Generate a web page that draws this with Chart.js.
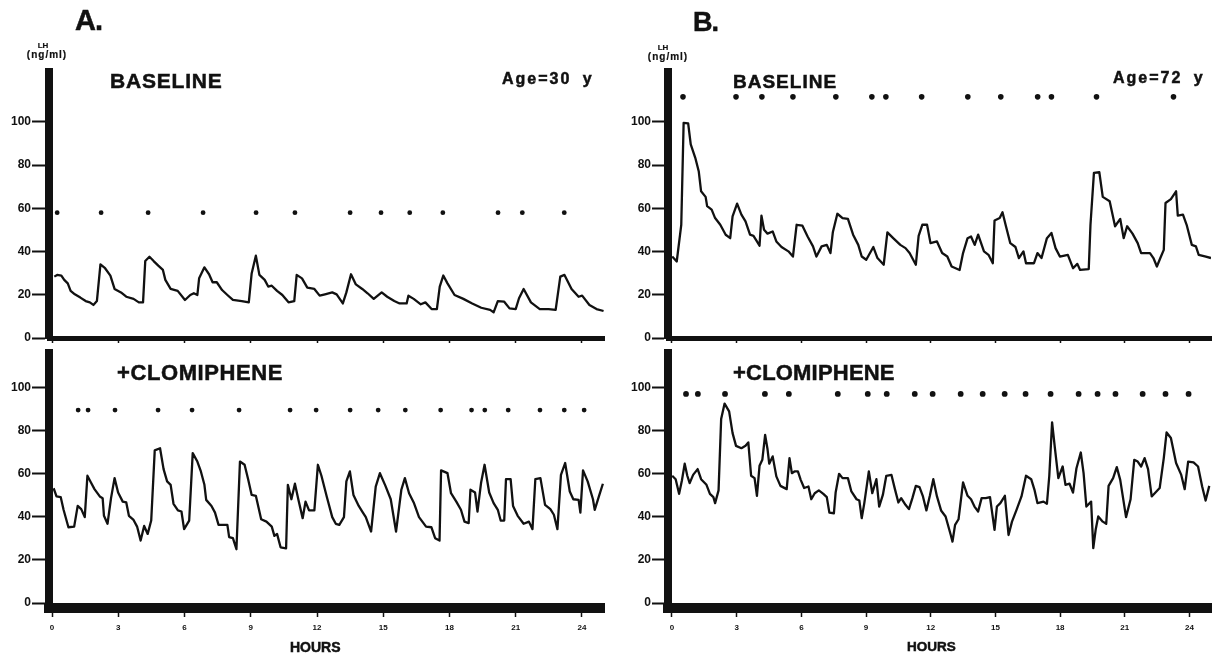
<!DOCTYPE html>
<html>
<head>
<meta charset="utf-8">
<script src="https://cdn.jsdelivr.net/npm/chart.js@4/dist/chart.umd.min.js"></script>
<style>
  body { margin: 0; background: #fff; }
  #wrap { position: relative; width: 1219px; height: 653px; overflow: hidden; background: #fff; }
  canvas { position: absolute; left: 0; top: 0; }
  .lbl { position: absolute; font-family: 'Liberation Sans', Arial, sans-serif; font-weight: bold; color: #111; line-height: 1; white-space: nowrap; -webkit-text-stroke: 0.5px #111; }
</style>
</head>
<body>
<div id="wrap">
  <canvas id="aBase" width="1219" height="653"></canvas>
  <canvas id="aClom" width="1219" height="653"></canvas>
  <canvas id="bBase" width="1219" height="653"></canvas>
  <canvas id="bClom" width="1219" height="653"></canvas>

  <div class="lbl" style="left:75px;top:6px;font-size:29px;letter-spacing:-1px">A.</div>
  <div class="lbl" style="left:693px;top:9px;font-size:27px;letter-spacing:-1px">B.</div>

  <div class="lbl" style="left:28px;top:42px;width:30px;text-align:center;font-size:8px;-webkit-text-stroke:0.2px #111">LH</div>
  <div class="lbl" style="left:17px;top:50px;width:60px;text-align:center;font-size:10px;letter-spacing:1px;-webkit-text-stroke:0.2px #111">(ng/ml)</div>
  <div class="lbl" style="left:648px;top:44px;width:30px;text-align:center;font-size:8px;-webkit-text-stroke:0.2px #111">LH</div>
  <div class="lbl" style="left:638px;top:52px;width:60px;text-align:center;font-size:10px;letter-spacing:1px;-webkit-text-stroke:0.2px #111">(ng/ml)</div>

  <div class="lbl" style="left:110px;top:70px;font-size:21px;letter-spacing:0.8px">BASELINE</div>
  <div class="lbl" style="left:733px;top:72px;font-size:19px;letter-spacing:1px">BASELINE</div>
  <div class="lbl" style="left:502px;top:71px;font-size:16px;letter-spacing:2px;word-spacing:5px">Age=30 y</div>
  <div class="lbl" style="left:1113px;top:70px;font-size:16px;letter-spacing:2px;word-spacing:5px">Age=72 y</div>

  <div class="lbl" style="left:117px;top:362px;font-size:22px;letter-spacing:0.6px">+CLOMIPHENE</div>
  <div class="lbl" style="left:733px;top:362px;font-size:22px;letter-spacing:0.2px">+CLOMIPHENE</div>

  <div class="lbl" style="left:290px;top:640px;font-size:14px">HOURS</div>
  <div class="lbl" style="left:907px;top:640px;font-size:13.5px">HOURS</div>
</div>
<script>
// tick labels
const hourTicks = [0, 3, 6, 9, 12, 15, 18, 21, 24];
const lhTicks = [0, 20, 40, 60, 80, 100];

// A. age 30, baseline
const aBaseHours = [
  0.10, 0.23, 0.42, 0.55, 0.71, 0.84, 1.03, 1.28, 1.52, 1.71,
  1.87, 2.03, 2.19, 2.40, 2.64, 2.83, 3.12, 3.36, 3.69, 3.93,
  4.12, 4.22, 4.41, 4.60, 4.81, 5.02, 5.13, 5.37, 5.69, 6.02,
  6.26, 6.42, 6.58, 6.66, 6.90, 7.11, 7.27, 7.46, 7.70, 7.94,
  8.19, 8.59, 8.91, 9.04, 9.23, 9.39, 9.63, 9.79, 9.95, 10.19,
  10.43, 10.71, 10.97, 11.08, 11.32, 11.56, 11.88, 12.12, 12.36, 12.69,
  12.89, 13.17, 13.33, 13.54, 13.76, 14.05, 14.29, 14.57, 14.93, 15.18,
  15.50, 15.74, 16.06, 16.14, 16.38, 16.70, 16.91, 17.19, 17.43, 17.56,
  17.72, 17.91, 18.23, 18.63, 19.03, 19.44, 19.84, 20.00, 20.19, 20.48,
  20.72, 21.00, 21.15, 21.36, 21.69, 22.09, 22.49, 22.81, 23.02, 23.21,
  23.53, 23.85, 24.01, 24.34, 24.66, 24.98
];
const aBaseLH = [
  28.4, 29.2, 28.9, 26.9, 25.3, 21.8, 20.2, 18.7, 17.1, 16.5,
  15.3, 17.1, 34.1, 32.3, 28.9, 22.7, 21.1, 19.1, 18.1, 16.5,
  16.5, 35.6, 37.6, 35.6, 33.5, 31.5, 26.9, 22.7, 21.8, 17.6,
  19.9, 20.7, 19.9, 27.6, 32.7, 29.5, 25.8, 25.8, 22.2, 19.9,
  17.6, 17.1, 16.5, 29.9, 38.1, 29.2, 26.9, 23.8, 24.2, 21.8,
  19.9, 16.5, 17.1, 29.2, 27.6, 23.3, 22.7, 19.6, 20.2, 21.1,
  20.2, 16.0, 21.1, 29.5, 24.8, 22.7, 20.7, 18.1, 21.1, 19.1,
  17.1, 16.0, 16.0, 19.6, 18.1, 15.6, 16.5, 13.4, 13.4, 23.8,
  28.9, 25.3, 19.9, 18.1, 16.0, 14.0, 13.0, 11.9, 17.1, 16.8,
  13.7, 13.4, 18.4, 22.7, 16.5, 13.4, 13.4, 13.0, 28.4, 29.2,
  22.7, 19.1, 19.6, 15.3, 13.4, 12.5
];
const aBasePulses = [0.23, 2.22, 4.35, 6.84, 9.24, 11.0, 13.5, 14.9, 16.2, 17.7, 20.2, 21.3, 23.2];

// A. age 30, + clomiphene
const aClomHours = [
  0.07, 0.20, 0.39, 0.52, 0.74, 1.00, 1.16, 1.32, 1.48, 1.60,
  1.76, 1.92, 2.16, 2.29, 2.35, 2.51, 2.67, 2.83, 2.99, 3.20,
  3.36, 3.48, 3.69, 3.85, 4.01, 4.17, 4.33, 4.49, 4.65, 4.89,
  5.05, 5.21, 5.37, 5.50, 5.70, 5.86, 5.98, 6.21, 6.37, 6.58,
  6.74, 6.90, 6.98, 7.22, 7.38, 7.54, 7.78, 7.94, 8.02, 8.19,
  8.35, 8.51, 8.72, 8.88, 9.04, 9.23, 9.47, 9.71, 9.95, 10.07,
  10.19, 10.35, 10.60, 10.68, 10.84, 11.00, 11.16, 11.35, 11.48, 11.64,
  11.88, 12.04, 12.20, 12.44, 12.69, 12.85, 13.01, 13.22, 13.33, 13.49,
  13.65, 13.89, 14.05, 14.21, 14.45, 14.66, 14.85, 15.10, 15.34, 15.58,
  15.82, 15.98, 16.17, 16.38, 16.62, 16.94, 17.18, 17.35, 17.55, 17.62,
  17.91, 18.07, 18.31, 18.52, 18.68, 18.87, 18.95, 19.16, 19.27, 19.43,
  19.59, 19.80, 20.00, 20.19, 20.32, 20.48, 20.56, 20.77, 20.88, 21.09,
  21.36, 21.60, 21.76, 21.89, 22.12, 22.33, 22.57, 22.73, 22.89, 23.05,
  23.24, 23.45, 23.61, 23.85, 23.93, 24.05, 24.26, 24.50, 24.58, 24.79,
  24.95
];
const aClomLH = [
  53.3, 49.5, 49.2, 43.3, 35.2, 35.5, 45.1, 43.6, 39.9, 59.1,
  56.0, 52.9, 49.5, 48.7, 40.5, 36.8, 48.7, 58.0, 51.3, 47.1,
  46.7, 40.5, 38.6, 35.5, 29.0, 35.8, 32.1, 38.3, 70.9, 71.9,
  62.2, 56.5, 54.9, 46.1, 43.0, 42.5, 34.3, 38.3, 69.6, 65.7,
  61.1, 54.9, 47.9, 45.1, 42.0, 36.3, 36.3, 36.3, 30.6, 30.1,
  25.0, 65.7, 64.2, 57.5, 50.2, 49.8, 38.9, 37.8, 35.5, 31.2,
  32.1, 25.9, 25.4, 54.9, 48.2, 55.4, 47.9, 39.4, 47.1, 43.0,
  43.0, 64.2, 59.1, 49.5, 39.9, 36.8, 36.3, 39.9, 56.5, 61.1,
  50.2, 45.1, 42.5, 39.9, 33.2, 54.1, 60.3, 54.4, 48.2, 33.2,
  52.6, 58.0, 51.0, 46.7, 39.9, 35.5, 35.2, 30.1, 29.0, 61.6,
  60.3, 51.0, 47.1, 43.3, 37.8, 37.1, 52.6, 51.3, 42.5, 55.7,
  64.2, 51.3, 46.4, 43.3, 38.3, 38.3, 57.5, 57.5, 45.1, 40.5,
  36.8, 37.8, 34.3, 57.5, 58.0, 45.6, 43.6, 41.0, 34.3, 59.5,
  65.0, 51.8, 48.2, 47.9, 42.0, 61.6, 56.5, 48.2, 43.3, 50.2,
  55.4
];
const aClomPulses = [1.18, 1.63, 2.85, 4.8, 6.34, 8.47, 10.78, 11.96, 13.5, 14.77, 16.0, 17.6, 19.0, 19.6, 20.66, 22.1, 23.2, 24.1];

// B. age 72, baseline
const bBaseHours = [
  0.01, 0.22, 0.43, 0.54, 0.75, 0.87, 1.08, 1.24, 1.35, 1.56,
  1.63, 1.84, 2.00, 2.24, 2.49, 2.70, 2.81, 3.02, 3.22, 3.41,
  3.62, 3.78, 3.94, 4.06, 4.15, 4.27, 4.43, 4.67, 4.84, 5.08,
  5.40, 5.61, 5.78, 6.05, 6.29, 6.54, 6.70, 6.94, 7.18, 7.35,
  7.46, 7.67, 7.91, 8.16, 8.40, 8.64, 8.80, 9.01, 9.34, 9.53,
  9.82, 9.99, 10.26, 10.59, 10.83, 11.02, 11.31, 11.44, 11.61, 11.83,
  11.99, 12.29, 12.53, 12.77, 12.97, 13.34, 13.50, 13.71, 13.87, 14.04,
  14.20, 14.47, 14.68, 14.88, 14.96, 15.20, 15.33, 15.49, 15.69, 15.93,
  16.09, 16.30, 16.42, 16.79, 16.95, 17.14, 17.39, 17.60, 17.79, 17.99,
  18.36, 18.60, 18.80, 18.93, 19.33, 19.41, 19.57, 19.82, 19.98, 20.30,
  20.55, 20.79, 20.95, 21.11, 21.36, 21.60, 21.76, 22.17, 22.33, 22.49,
  22.65, 22.81, 22.89, 23.14, 23.38, 23.46, 23.70, 23.87, 24.11, 24.30,
  24.43, 24.76, 25.00
];
const bBaseLH = [
  37.7, 35.4, 52.4, 99.6, 99.3, 89.6, 83.4, 77.2, 67.9, 65.3,
  61.0, 59.4, 55.5, 52.4, 47.8, 46.2, 56.3, 62.2, 57.1, 54.0,
  47.8, 47.3, 44.7, 42.7, 56.6, 50.1, 48.3, 49.3, 44.7, 42.1,
  40.1, 37.7, 52.4, 52.0, 47.0, 42.4, 37.7, 42.4, 43.1, 39.3,
  48.9, 57.5, 55.5, 55.1, 47.8, 43.1, 37.7, 36.2, 42.1, 37.0,
  33.9, 48.9, 46.2, 43.1, 41.6, 39.3, 33.9, 47.3, 52.4, 52.4,
  43.9, 44.7, 39.3, 37.7, 33.1, 31.5, 39.3, 46.2, 47.0, 43.1,
  47.8, 40.1, 38.5, 34.6, 54.4, 55.5, 58.2, 51.7, 43.9, 42.1,
  37.0, 40.1, 34.6, 34.6, 39.3, 37.0, 46.2, 48.6, 41.6, 37.7,
  38.5, 32.3, 34.3, 31.5, 31.9, 52.4, 76.4, 76.7, 65.3, 63.3,
  51.7, 55.1, 46.2, 51.7, 48.3, 43.9, 39.3, 39.3, 37.0, 33.1,
  37.0, 40.8, 62.5, 64.3, 67.9, 56.6, 57.1, 52.4, 43.1, 42.4,
  38.5, 37.7, 37.0
];
const bBasePulses = [0.51, 2.97, 4.17, 5.61, 7.6, 9.27, 9.92, 11.58, 13.72, 15.25, 16.96, 17.6, 19.69, 23.26];

// B. age 72, + clomiphene
const bClomHours = [
  0.01, 0.17, 0.33, 0.46, 0.59, 0.71, 0.82, 0.98, 1.19, 1.35,
  1.60, 1.76, 1.92, 2.00, 2.16, 2.28, 2.44, 2.65, 2.81, 2.97,
  3.22, 3.41, 3.54, 3.67, 3.83, 3.94, 4.06, 4.19, 4.32, 4.43,
  4.51, 4.67, 4.84, 5.03, 5.32, 5.45, 5.56, 5.68, 5.84, 5.97,
  6.13, 6.33, 6.46, 6.62, 6.81, 7.02, 7.18, 7.30, 7.51, 7.59,
  7.75, 7.91, 8.16, 8.32, 8.56, 8.69, 8.80, 8.92, 9.13, 9.29,
  9.48, 9.61, 9.78, 9.94, 10.18, 10.34, 10.50, 10.63, 10.83, 10.99,
  11.15, 11.31, 11.48, 11.64, 11.80, 11.96, 12.12, 12.29, 12.48, 12.69,
  12.93, 13.01, 13.13, 13.29, 13.50, 13.71, 13.87, 14.03, 14.20, 14.36,
  14.55, 14.75, 14.96, 15.07, 15.23, 15.44, 15.61, 15.77, 15.98, 16.21,
  16.42, 16.66, 16.82, 16.95, 17.23, 17.39, 17.50, 17.63, 17.76, 17.92,
  18.12, 18.25, 18.44, 18.60, 18.76, 18.96, 19.09, 19.22, 19.44, 19.54,
  19.65, 19.77, 19.98, 20.14, 20.25, 20.46, 20.63, 20.79, 21.06, 21.27,
  21.44, 21.60, 21.76, 21.92, 22.08, 22.25, 22.62, 22.81, 22.94, 23.14,
  23.38, 23.62, 23.78, 23.94, 24.19, 24.40, 24.59, 24.75, 24.92
];
const bClomLH = [
  59.1, 57.5, 50.7, 56.9, 64.7, 59.1, 55.7, 59.5, 62.2, 57.5,
  54.9, 50.7, 49.2, 46.4, 52.3, 85.4, 92.6, 89.0, 78.9, 73.0,
  71.9, 73.0, 74.6, 59.1, 58.0, 49.8, 63.7, 66.5, 78.1, 71.5,
  64.7, 68.1, 58.8, 54.4, 52.9, 67.3, 60.3, 61.1, 61.1, 57.2,
  53.4, 54.1, 48.2, 51.0, 52.3, 50.7, 49.2, 42.0, 41.7, 51.3,
  60.0, 58.0, 58.0, 51.8, 48.2, 47.6, 39.4, 46.4, 61.1, 51.0,
  57.5, 44.8, 50.2, 59.1, 59.5, 52.9, 46.7, 48.7, 45.6, 43.6,
  48.7, 54.4, 53.8, 49.5, 43.0, 49.8, 57.5, 49.5, 43.0, 40.2,
  31.6, 28.5, 36.3, 38.9, 56.0, 49.8, 48.2, 44.8, 42.5, 48.7,
  48.7, 49.2, 34.0, 44.8, 46.4, 49.8, 31.6, 37.8, 43.3, 49.5,
  59.1, 57.5, 52.3, 46.4, 47.1, 46.1, 59.1, 83.9, 71.9, 58.0,
  63.4, 54.9, 55.4, 51.3, 62.6, 69.9, 60.3, 44.8, 47.1, 25.5,
  34.0, 40.2, 37.8, 36.8, 54.4, 58.0, 63.1, 57.2, 39.9, 48.2,
  66.5, 65.7, 63.4, 67.3, 62.2, 49.5, 53.4, 67.3, 79.2, 76.6,
  65.0, 59.5, 52.9, 65.7, 65.3, 63.4, 54.1, 47.6, 54.4
];
const bClomPulses = [0.65, 1.2, 2.46, 4.31, 5.42, 7.69, 9.08, 9.96, 11.26, 12.09, 13.39, 14.41, 15.43, 16.4, 17.56, 18.86, 19.74, 20.57, 21.83, 22.89, 23.96];

const INK = '#111';
const FONT = "'Liberation Sans', Arial, sans-serif";
const Y_W = 45;

// plot boxes in page pixels, matched to the scanned figure
const panels = [
  { id: 'aBase', hours: aBaseHours, lh: aBaseLH, pulses: aBasePulses, pulseLevel: 58, dot: 2.4,
    left: 49, right: 604, top: 72, bottom: 338, xMin: -0.14, yMin: 0, yMax: 123.1,
    xBorder: 5, xH: 10, xTick: 5, showHours: false, yTick: 17 },
  { id: 'aClom', hours: aClomHours, lh: aClomLH, pulses: aClomPulses, pulseLevel: 89.6, dot: 2.4,
    left: 49, right: 604, top: 353, bottom: 608, xMin: -0.14, yMin: -2.3, yMax: 116.1,
    xBorder: 10, xH: 40, xTick: 9, showHours: true, yTick: 17 },
  { id: 'bBase', hours: bBaseHours, lh: bBaseLH, pulses: bBasePulses, pulseLevel: 111.6, dot: 2.8,
    left: 668, right: 1211, top: 72, bottom: 338, xMin: -0.185, yMin: 0, yMax: 123.1,
    xBorder: 5, xH: 10, xTick: 5, showHours: false, yTick: 16 },
  { id: 'bClom', hours: bClomHours, lh: bClomLH, pulses: bClomPulses, pulseLevel: 97.1, dot: 2.9,
    left: 668, right: 1211, top: 353, bottom: 608, xMin: -0.185, yMin: -2.3, yMax: 116.1,
    xBorder: 10, xH: 40, xTick: 9, showHours: true, yTick: 16 }
];

panels.forEach(p => {
  const series = p.hours.map((h, i) => ({ x: h, y: p.lh[i] }));
  const dots = p.pulses.map(h => ({ x: h, y: p.pulseLevel }));

  new Chart(document.getElementById(p.id), {
    type: 'scatter',
    data: {
      datasets: [
        { data: series, showLine: true, borderColor: INK, borderWidth: 2.3, pointRadius: 0, tension: 0,
          borderJoinStyle: 'round' },
        { data: dots, pointRadius: p.dot, backgroundColor: INK, borderWidth: 0 }
      ]
    },
    options: {
      responsive: false,
      animation: false,
      events: [],
      layout: {
        padding: { left: p.left - Y_W, right: 1219 - p.right, top: p.top, bottom: 653 - p.bottom - p.xH }
      },
      plugins: { legend: { display: false }, tooltip: { enabled: false } },
      scales: {
        x: {
          type: 'linear',
          min: p.xMin,
          max: 25,
          afterBuildTicks: s => { s.ticks = hourTicks.map(v => ({ value: v })); },
          afterFit: s => { s.height = p.xH; },
          grid: { drawOnChartArea: false, tickLength: p.xTick, tickWidth: 1.5, tickColor: INK },
          border: { color: INK, width: p.xBorder },
          ticks: { display: p.showHours, color: INK, padding: 6, maxRotation: 0, autoSkip: false,
                   font: { family: FONT, size: 8, weight: 'bold' } }
        },
        y: {
          min: p.yMin,
          max: p.yMax,
          afterBuildTicks: s => { s.ticks = lhTicks.map(v => ({ value: v })); },
          afterFit: s => { s.width = Y_W; },
          grid: { drawOnChartArea: false, tickLength: p.yTick, tickWidth: 2, tickColor: INK },
          border: { color: INK, width: 8 },
          ticks: { color: INK, padding: 1, autoSkip: false,
                   font: { family: FONT, size: 12, weight: 'bold' } }
        }
      }
    }
  });
});
</script>
</body>
</html>
